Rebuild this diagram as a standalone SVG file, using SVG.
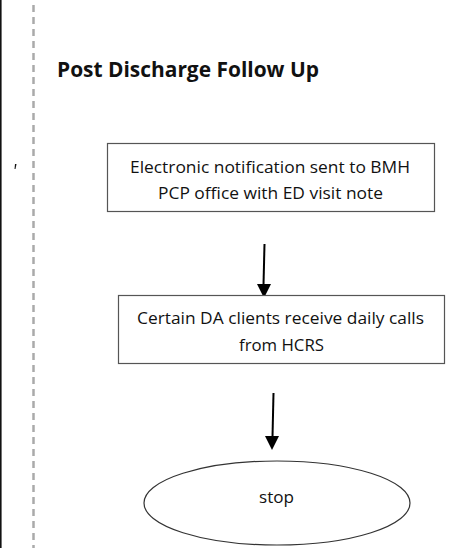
<svg xmlns="http://www.w3.org/2000/svg" width="469" height="548" viewBox="0 0 469 548">
<style>
.t{font-family:"Open Sans","Liberation Sans",sans-serif;font-size:15.5px;fill:#111;text-anchor:middle}
.title{font-family:"Open Sans","Liberation Sans",sans-serif;font-size:22px;font-weight:bold;fill:#111}
.box{fill:#fff;stroke:#555;stroke-width:1.2}
.conn{stroke:#000;stroke-width:2;fill:none}
.head{fill:#000}
</style>
<rect width="469" height="548" fill="#fff"/>
<line x1="0.8" y1="0" x2="0.8" y2="548" stroke="#111" stroke-width="1.6"/>
<line x1="33.5" y1="5" x2="33.5" y2="548" stroke="#aaa" stroke-width="2.5" stroke-dasharray="7 5"/>
<path d="M15,164 L16.5,164 L15.5,169 L14.5,169 Z" fill="#111"/>
<text class="title" x="57" y="77" textLength="262" lengthAdjust="spacingAndGlyphs">Post Discharge Follow Up</text>
<g id="connectors">
<path class="conn" d="M264.5,244 L263.5,285"/>
<path class="head" d="M257,284 L271,284 L264,298 Z"/>
<path class="conn" d="M273.5,393 L272.5,437"/>
<path class="head" d="M265,436 L279,436 L272,450 Z"/>
</g>
<g id="node1">
<rect class="box" x="107.5" y="143.5" width="327" height="68"/>
<text class="t" x="270" y="173" textLength="280" lengthAdjust="spacingAndGlyphs">Electronic notification sent to BMH</text>
<text class="t" x="270.5" y="199" textLength="225" lengthAdjust="spacingAndGlyphs">PCP office with ED visit note</text>
</g>
<g id="node2">
<rect class="box" x="118.5" y="295.5" width="326" height="68"/>
<text class="t" x="280.5" y="324" textLength="287" lengthAdjust="spacingAndGlyphs">Certain DA clients receive daily calls</text>
<text class="t" x="281.5" y="351" textLength="85" lengthAdjust="spacingAndGlyphs">from HCRS</text>
</g>
<g id="node3">
<ellipse cx="277" cy="503" rx="133" ry="42" fill="#fff" stroke="#333" stroke-width="1.2"/>
<text class="t" x="276.5" y="503" textLength="35" lengthAdjust="spacingAndGlyphs">stop</text>
</g>
</svg>
